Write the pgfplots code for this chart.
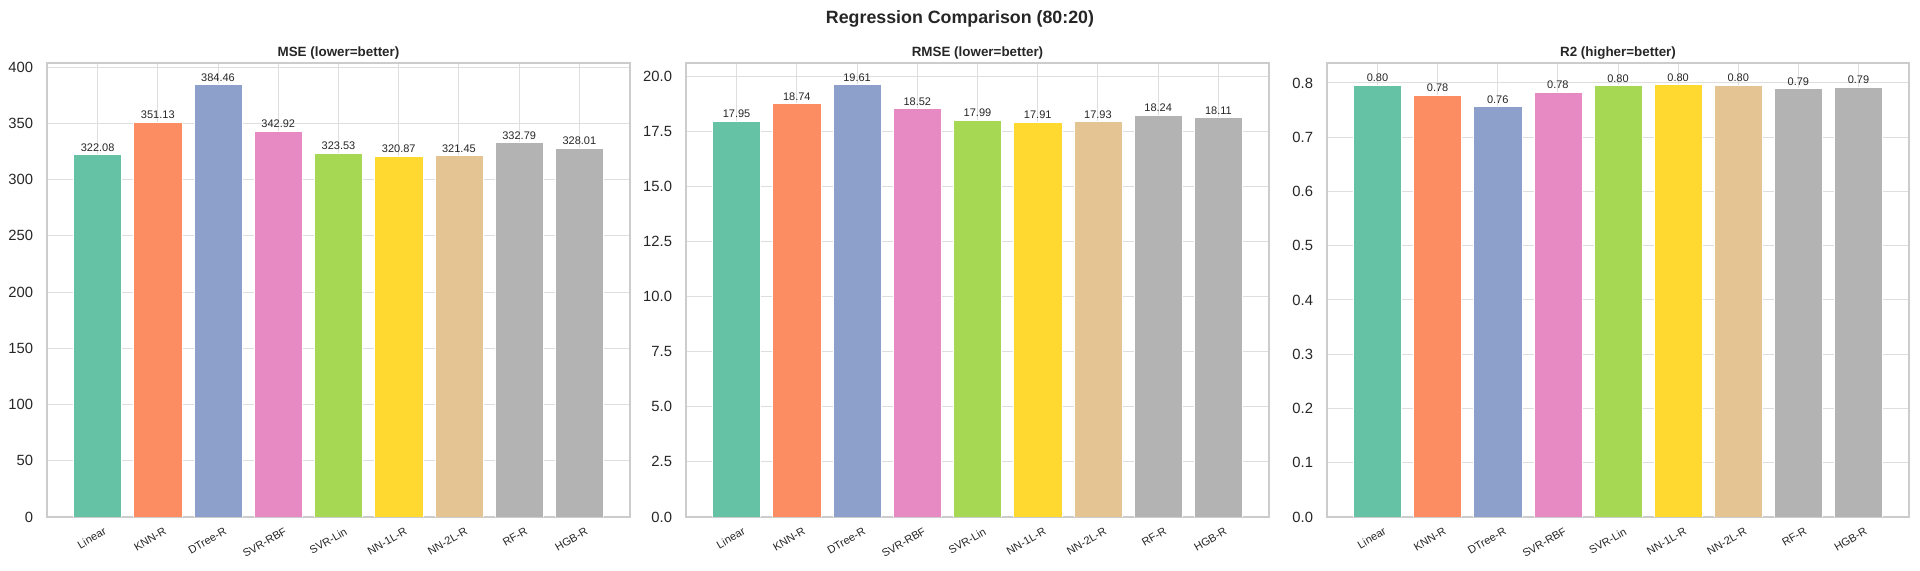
\documentclass[border=0pt]{standalone}
\usepackage{fontspec}
\setmainfont{Liberation Sans}
\usepackage{pgfplots}
\pgfplotsset{compat=1.18}
\definecolor{s1}{HTML}{66C2A5}
\definecolor{s2}{HTML}{FC8D62}
\definecolor{s3}{HTML}{8DA0CB}
\definecolor{s4}{HTML}{E78AC3}
\definecolor{s5}{HTML}{A6D854}
\definecolor{s6}{HTML}{FFD92F}
\definecolor{s7}{HTML}{E5C494}
\definecolor{s8}{HTML}{B3B3B3}
\definecolor{gridc}{HTML}{DEDEDE}
\definecolor{edgec}{HTML}{CCCCCC}
\definecolor{txt}{HTML}{262626}
\newcommand{\mybar}[3]{\addplot[fill=#1] coordinates {(#2,#3)};}
\pgfplotsset{
  /pgf/number format/assume math mode=true,
  panel/.style={
    scale only axis, width=291.5pt, height=227pt, anchor=south west,
    xmin=-0.84, xmax=8.84, ymin=0,
    xtick={0,...,8},
    xticklabels={Linear,KNN-R,DTree-R,SVR-RBF,SVR-Lin,NN-1L-R,NN-2L-R,RF-R,HGB-R},
    xticklabel style={rotate=30, anchor=north east, font=\fontsize{5.5}{6}\selectfont, text=txt, inner sep=0pt, yshift=-5.5pt},
    yticklabel style={font=\fontsize{7.4}{8}\selectfont, text=txt, inner sep=0pt, xshift=-6.8pt},
    major tick length=0pt,
    grid=major, major grid style={gridc, line width=0.5pt},
    axis line style={edgec, line width=0.6pt},
    title style={at={(0.5,1)}, anchor=base, yshift=-2.9pt, inner sep=0pt, font=\bfseries\fontsize{6.7}{8}\selectfont, text=txt},
    nodes near coords={\pgfmathprintnumber[fixed,zerofill,precision=2]{\pgfplotspointmeta}},
    nodes near coords style={font=\fontsize{5.5}{6}\selectfont, text=txt, inner sep=1.5pt, anchor=south},
    every axis plot/.append style={ybar, bar width=0.8, draw=white, line width=0.3pt},
  }
}
\begin{document}
\begin{tikzpicture}
\path[use as bounding box] (0,0) rectangle (960pt,285.5pt);
\node[anchor=base, font=\bfseries\fontsize{8.9}{10}\selectfont, text=txt] at (480pt,273.8pt) {Regression Comparison (80:20)};
% MSE
\begin{axis}[panel, at={(23.5pt,27pt)}, ymax=403.68, ytick={0,50,...,400},
  title={MSE (lower=better)}]
\mybar{s1}{0}{322.08}
\mybar{s2}{1}{351.13}
\mybar{s3}{2}{384.46}
\mybar{s4}{3}{342.92}
\mybar{s5}{4}{323.53}
\mybar{s6}{5}{320.87}
\mybar{s7}{6}{321.45}
\mybar{s8}{7}{332.79}
\mybar{s8}{8}{328.01}
\end{axis}
% RMSE
\begin{axis}[panel, at={(343pt,27pt)}, ymax=20.59, ytick={0,2.5,...,20},
  yticklabel={\pgfmathprintnumber[fixed,zerofill,precision=1]{\tick}},
  title={RMSE (lower=better)}]
\mybar{s1}{0}{17.95}
\mybar{s2}{1}{18.74}
\mybar{s3}{2}{19.61}
\mybar{s4}{3}{18.52}
\mybar{s5}{4}{17.99}
\mybar{s6}{5}{17.91}
\mybar{s7}{6}{17.93}
\mybar{s8}{7}{18.24}
\mybar{s8}{8}{18.11}
\end{axis}
% R2
\begin{axis}[panel, at={(663.5pt,27pt)}, width=291pt, ymax=0.8368, ytick={0,0.1,...,0.8},
  yticklabel={\pgfmathprintnumber[fixed,zerofill,precision=1]{\tick}},
  title={R2 (higher=better)}]
\mybar{s1}{0}{0.7962}
\mybar{s2}{1}{0.7778}
\mybar{s3}{2}{0.7567}
\mybar{s4}{3}{0.7830}
\mybar{s5}{4}{0.7952}
\mybar{s6}{5}{0.7969}
\mybar{s7}{6}{0.7965}
\mybar{s8}{7}{0.7894}
\mybar{s8}{8}{0.7924}
\end{axis}
\end{tikzpicture}
\end{document}
